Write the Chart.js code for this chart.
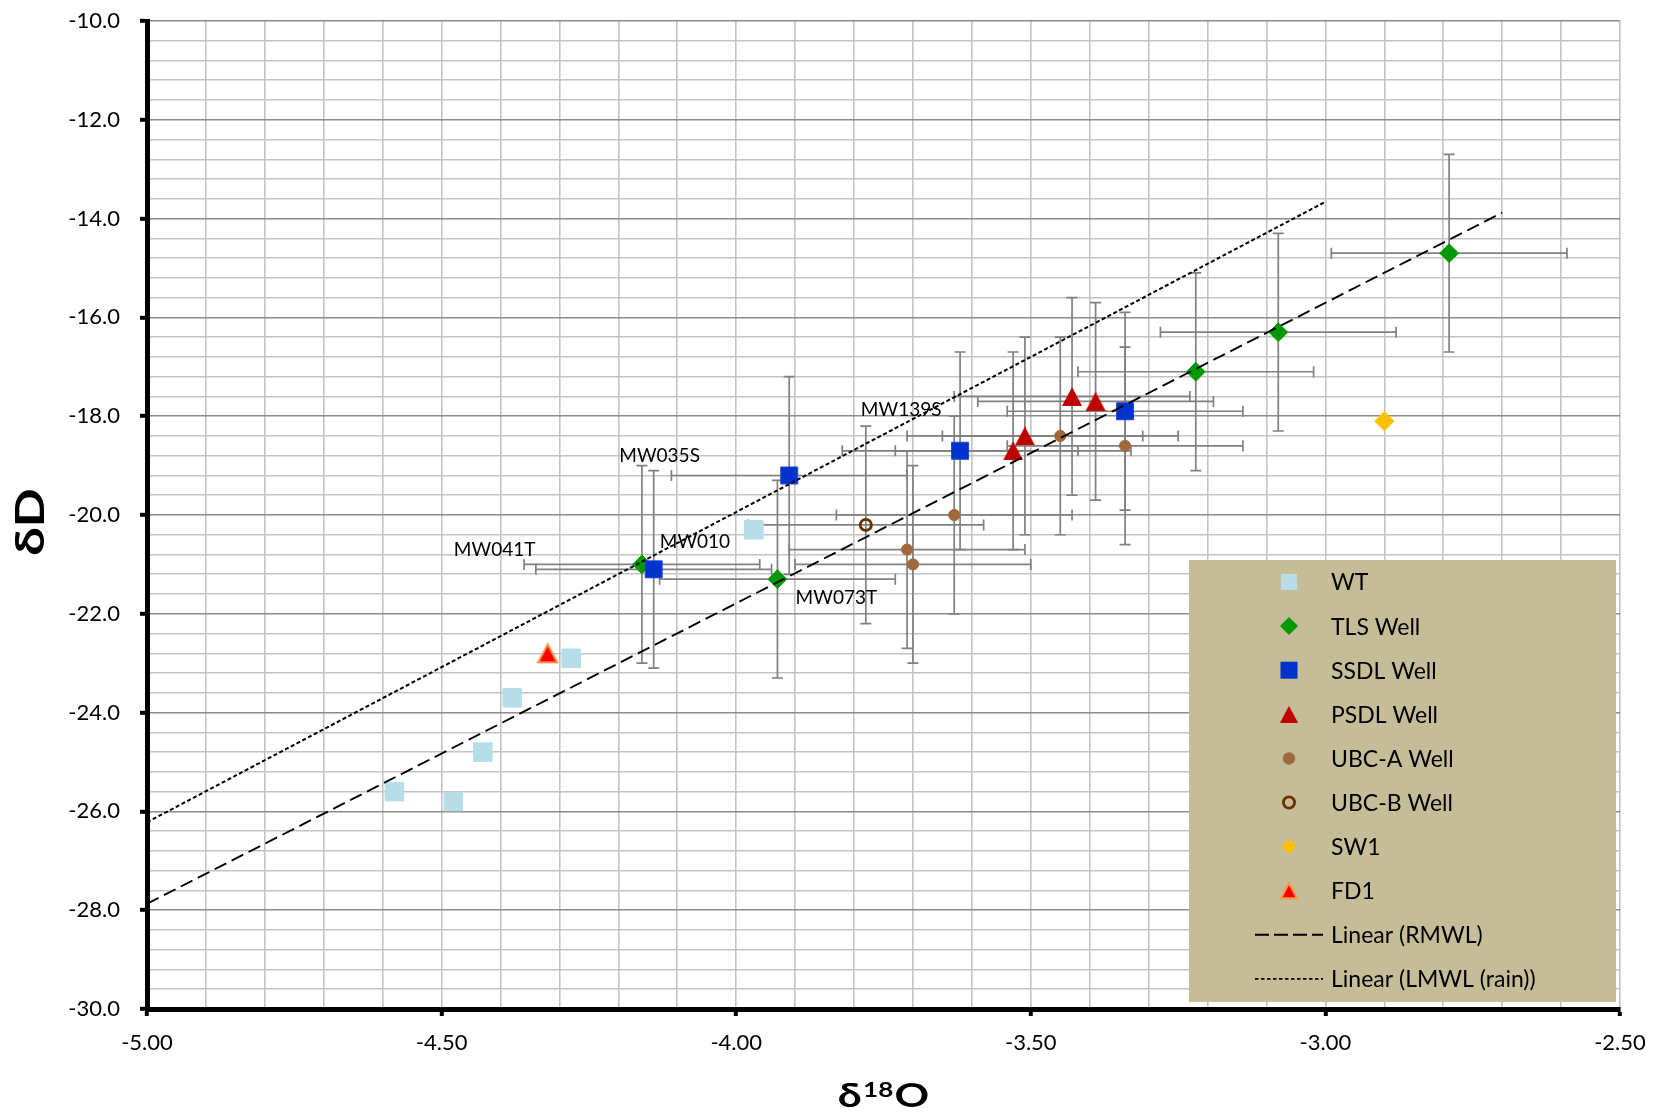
<!DOCTYPE html>
<html>
<head>
<meta charset="utf-8">
<title>Isotope Plot</title>
<script src="https://cdn.jsdelivr.net/npm/chart.js"></script>
<style>
    body {
        margin: 0;
        background: #fff;
    }
    #wrap {
        width: 1668px;
        height: 1120px;
    }
</style>
</head>
<body>
<div id="wrap"><canvas id="isoChart" width="1668" height="1120"></canvas></div>

<script>
// d18O / dD values for each sample group
var wtX   = [-4.58, -4.48, -4.43, -4.38, -4.28, -3.97];
var wtY   = [-25.6, -25.8, -24.8, -23.7, -22.9, -20.3];
var tlsX  = [-4.16, -3.93, -3.22, -3.08, -2.79];
var tlsY  = [-21.0, -21.3, -17.1, -16.3, -14.7];
var ssdlX = [-4.14, -3.91, -3.62, -3.34];
var ssdlY = [-21.1, -19.2, -18.7, -17.9];
var psdlX = [-3.53, -3.51, -3.43, -3.39];
var psdlY = [-18.7, -18.4, -17.6, -17.7];
var ubcaX = [-3.71, -3.70, -3.63, -3.45, -3.34];
var ubcaY = [-20.7, -21.0, -20.0, -18.4, -18.6];
var ubcbX = [-3.78];
var ubcbY = [-20.2];
var sw1X  = [-2.90];
var sw1Y  = [-18.1];
var fd1X  = [-4.32];
var fd1Y  = [-22.8];

// trend line end points
var rmwlX = [-5.00, -2.70];
var rmwlY = [-27.87, -13.88];
var lmwlX = [-5.00, -3.00];
var lmwlY = [-26.22, -13.66];

// analytical uncertainty (+/-)
var errO = 0.2;
var errD = 2.0;

// well id labels, placed in data units
var labelText = ['MW041T', 'MW035S', 'MW010', 'MW073T', 'MW139S'];
var labelX    = [-4.41, -4.13, -4.07, -3.83, -3.72];
var labelY    = [-20.70, -18.80, -20.55, -21.67, -17.87];

// labelled ticks
var xMajor = [-5.0, -4.5, -4.0, -3.5, -3.0, -2.5];
var yMajor = [-10, -12, -14, -16, -18, -20, -22, -24, -26, -28, -30];

function pts(xs, ys) {
    return xs.map(function (x, i) { return { x: x, y: ys[i] }; });
}
function isMajor(list, v) {
    return list.some(function (m) { return Math.abs(m - v) < 1e-6; });
}

// triangle marker centred on its bounding box
function triangleMark(w, h, fill, stroke, lw) {
    var pad = Math.ceil(lw || 0);
    var c = document.createElement('canvas');
    c.width = Math.round(w + 2 * pad);
    c.height = Math.round(h + 2 * pad);
    var g = c.getContext('2d');
    g.beginPath();
    g.moveTo(c.width / 2, pad);
    g.lineTo(c.width - pad, c.height - pad);
    g.lineTo(pad, c.height - pad);
    g.closePath();
    g.fillStyle = fill;
    g.fill();
    if (lw) {
        g.lineWidth = lw;
        g.strokeStyle = stroke;
        g.stroke();
    }
    return c;
}

var psdlMark = triangleMark(20, 19, '#c00000');
var fd1Mark = triangleMark(19, 18, '#ff0000', '#f79646', 2);
var psdlKey = triangleMark(18, 17, '#c00000');
var fd1Key = triangleMark(16, 15, '#ff0000', '#f79646', 2);

Chart.defaults.font.family = 'Lato, "Liberation Sans", sans-serif';
Chart.defaults.color = '#000';

var datasets = [
    { label: 'Linear (RMWL)', data: pts(rmwlX, rmwlY), showLine: true, borderColor: '#000', borderWidth: 1.9,
      borderDash: [13, 6], pointRadius: 0, order: 0 },
    { label: 'Linear (LMWL (rain))', data: pts(lmwlX, lmwlY), showLine: true, borderColor: '#000', borderWidth: 2,
      borderDash: [4, 2.5], pointRadius: 0, order: 0 },
    { label: 'WT', data: pts(wtX, wtY), pointStyle: 'rect', pointRadius: 13.1,
      backgroundColor: '#b7dde8', borderColor: '#b7dde8', borderWidth: 1, order: 9 },
    { label: 'TLS Well', data: pts(tlsX, tlsY), pointStyle: 'rectRot', pointRadius: 9.4, errorBars: true,
      backgroundColor: '#009900', borderColor: '#009900', borderWidth: 1, order: 8 },
    { label: 'SSDL Well', data: pts(ssdlX, ssdlY), pointStyle: 'rect', pointRadius: 12, errorBars: true,
      backgroundColor: '#0033cc', borderColor: '#1a47d6', borderWidth: 1, order: 7 },
    { label: 'PSDL Well', data: pts(psdlX, psdlY), pointStyle: psdlMark, pointRadius: 10, errorBars: true,
      backgroundColor: '#c00000', order: 6 },
    { label: 'UBC-A Well', data: pts(ubcaX, ubcaY), pointStyle: 'circle', pointRadius: 5.6, errorBars: true,
      backgroundColor: '#a0693c', borderColor: '#a0693c', borderWidth: 1, order: 5 },
    { label: 'UBC-B Well', data: pts(ubcbX, ubcbY), pointStyle: 'circle', pointRadius: 5.6, errorBars: true,
      backgroundColor: 'rgba(0,0,0,0)', borderColor: '#663300', borderWidth: 2.8, order: 4 },
    { label: 'SW1', data: pts(sw1X, sw1Y), pointStyle: 'rectRot', pointRadius: 9.6,
      backgroundColor: '#ffc000', borderColor: '#ffc000', borderWidth: 1, order: 3 },
    { label: 'FD1', data: pts(fd1X, fd1Y), pointStyle: fd1Mark, pointRadius: 11,
      backgroundColor: '#ff0000', order: 2 }
];

// legend rows, in display order
var legendRows = [
    { text: 'WT', kind: 'rect', size: 16, fill: '#b7dde8' },
    { text: 'TLS Well', kind: 'diamond', size: 18, fill: '#009900' },
    { text: 'SSDL Well', kind: 'rect', size: 17, fill: '#0033cc' },
    { text: 'PSDL Well', kind: 'image', img: psdlKey },
    { text: 'UBC-A Well', kind: 'circle', size: 12.5, fill: '#a0693c' },
    { text: 'UBC-B Well', kind: 'ring', size: 14, stroke: '#663300' },
    { text: 'SW1', kind: 'diamond', size: 15, fill: '#ffc000' },
    { text: 'FD1', kind: 'image', img: fd1Key },
    { text: 'Linear (RMWL)', kind: 'line', dash: [14, 5], width: 1.9 },
    { text: 'Linear (LMWL (rain))', kind: 'line', dash: [3.5, 2.5], width: 1.8 }
];

function drawKey(ctx, row, x, y) {
    ctx.save();
    var h = (row.size || 0) / 2;
    ctx.fillStyle = row.fill || '#000';
    if (row.kind === 'rect') {
        ctx.fillRect(x - h, y - h, 2 * h, 2 * h);
    } else if (row.kind === 'diamond') {
        ctx.beginPath();
        ctx.moveTo(x, y - h);
        ctx.lineTo(x + h, y);
        ctx.lineTo(x, y + h);
        ctx.lineTo(x - h, y);
        ctx.closePath();
        ctx.fill();
    } else if (row.kind === 'circle') {
        ctx.beginPath();
        ctx.arc(x, y, h, 0, Math.PI * 2);
        ctx.fill();
    } else if (row.kind === 'ring') {
        ctx.beginPath();
        ctx.arc(x, y, h - 1.4, 0, Math.PI * 2);
        ctx.lineWidth = 2.8;
        ctx.strokeStyle = row.stroke;
        ctx.stroke();
    } else if (row.kind === 'image') {
        ctx.drawImage(row.img, x - row.img.width / 2, y - row.img.height / 2);
    } else if (row.kind === 'line') {
        ctx.beginPath();
        ctx.setLineDash(row.dash);
        ctx.lineWidth = row.width;
        ctx.strokeStyle = '#000';
        ctx.moveTo(x - 34, y);
        ctx.lineTo(x + 34, y);
        ctx.stroke();
    }
    ctx.restore();
}

var isoDecor = {
    id: 'isoDecor',
    beforeDatasetsDraw: function (chart) {
        var ctx = chart.ctx, xs = chart.scales.x, ys = chart.scales.y;
        var cap = 5.5;
        ctx.save();
        ctx.strokeStyle = '#808080';
        ctx.lineWidth = 1.7;
        chart.data.datasets.forEach(function (ds) {
            if (!ds.errorBars) return;
            ds.data.forEach(function (p) {
                var px = xs.getPixelForValue(p.x), py = ys.getPixelForValue(p.y);
                var x0 = xs.getPixelForValue(p.x - errO), x1 = xs.getPixelForValue(p.x + errO);
                var y0 = ys.getPixelForValue(p.y + errD), y1 = ys.getPixelForValue(p.y - errD);
                ctx.beginPath();
                ctx.moveTo(x0, py); ctx.lineTo(x1, py);
                ctx.moveTo(x0, py - cap); ctx.lineTo(x0, py + cap);
                ctx.moveTo(x1, py - cap); ctx.lineTo(x1, py + cap);
                ctx.moveTo(px, y0); ctx.lineTo(px, y1);
                ctx.moveTo(px - cap, y0); ctx.lineTo(px + cap, y0);
                ctx.moveTo(px - cap, y1); ctx.lineTo(px + cap, y1);
                ctx.stroke();
            });
        });
        ctx.restore();
    },
    afterDatasetsDraw: function (chart) {
        var ctx = chart.ctx, xs = chart.scales.x, ys = chart.scales.y;
        ctx.save();
        ctx.font = '19px Lato, "Liberation Sans", sans-serif';
        ctx.fillStyle = '#000';
        ctx.textAlign = 'center';
        ctx.textBaseline = 'middle';
        labelText.forEach(function (t, i) {
            ctx.fillText(t, xs.getPixelForValue(labelX[i]), ys.getPixelForValue(labelY[i]));
        });
        ctx.restore();
    },
    afterDraw: function (chart) {
        var ctx = chart.ctx, area = chart.chartArea;
        ctx.save();

        // legend panel
        ctx.fillStyle = '#c4bd97';
        ctx.fillRect(1189, 560, 427, 442);
        ctx.font = '23px Lato, "Liberation Sans", sans-serif';
        ctx.textAlign = 'left';
        ctx.textBaseline = 'middle';
        legendRows.forEach(function (row, i) {
            var y = 582 + i * 44.1;
            drawKey(ctx, row, 1289, y);
            ctx.fillStyle = '#000';
            ctx.fillText(row.text, 1331, y + 1);
        });

        // y axis title
        ctx.save();
        ctx.translate(44, 522);
        ctx.rotate(-Math.PI / 2);
        ctx.scale(1.25, 1);
        ctx.font = 'bold 41px Lato, "Liberation Sans", sans-serif';
        ctx.textAlign = 'center';
        ctx.textBaseline = 'alphabetic';
        ctx.fillStyle = '#000';
        ctx.fillText('\u03b4D', 0, 0);
        ctx.restore();

        // x axis title with superscript mass number
        ctx.save();
        var cx = (area.left + area.right) / 2;
        ctx.translate(cx, 1107);
        ctx.scale(1.3, 1);
        ctx.fillStyle = '#000';
        ctx.textBaseline = 'alphabetic';
        ctx.textAlign = 'left';
        var big = 'bold 33px Lato, "Liberation Sans", sans-serif';
        var small = 'bold 20px Lato, "Liberation Sans", sans-serif';
        ctx.font = big;
        var wd = ctx.measureText('\u03b4').width;
        var wo = ctx.measureText('O').width;
        ctx.font = small;
        var ws = ctx.measureText('18').width;
        var x = -(wd + ws + wo + 2) / 2;
        ctx.font = big;
        ctx.fillText('\u03b4', x, 0);
        ctx.font = small;
        ctx.fillText('18', x + wd + 1, -10);
        ctx.font = big;
        ctx.fillText('O', x + wd + ws + 2, 0);
        ctx.restore();

        ctx.restore();
    }
};

var ctx = document.getElementById('isoChart').getContext('2d');
var isoChart = new Chart(ctx, {
    type: 'scatter',
    data: { datasets: datasets },
    options: {
        responsive: false,
        animation: false,
        events: [],
        layout: { padding: { top: 21, right: 48, left: 0, bottom: 0 } },
        plugins: {
            legend: { display: false },
            tooltip: { enabled: false }
        },
        scales: {
            x: {
                type: 'linear',
                min: -5,
                max: -2.5,
                afterFit: function (scale) { scale.height = 111; },
                ticks: {
                    stepSize: 0.1,
                    autoSkip: false,
                    maxRotation: 0,
                    minRotation: 0,
                    padding: 14,
                    color: '#000',
                    font: { size: 22 },
                    callback: function (v) { return isMajor(xMajor, v) ? v.toFixed(2) : ''; }
                },
                grid: {
                    color: '#c3c3c3',
                    lineWidth: 1.6,
                    tickLength: 7,
                    tickWidth: 4,
                    tickColor: function (c) {
                        return c.tick && isMajor(xMajor, c.tick.value) ? '#000' : 'rgba(0,0,0,0)';
                    }
                },
                border: { color: '#000', width: 5 }
            },
            y: {
                type: 'linear',
                min: -30,
                max: -10,
                afterFit: function (scale) {
                    scale.width = 147;
                    // keep the label padding from pushing the plot down
                    scale.paddingTop = 12;
                    scale.paddingBottom = 12;
                },
                ticks: {
                    stepSize: 0.4,
                    autoSkip: false,
                    padding: 20,
                    color: '#000',
                    font: { size: 22 },
                    callback: function (v) { return isMajor(yMajor, v) ? v.toFixed(1) : ''; }
                },
                grid: {
                    color: function (c) {
                        return c.tick && isMajor(yMajor, c.tick.value) ? '#8c8c8c' : '#c3c3c3';
                    },
                    lineWidth: 1.6,
                    tickLength: 7,
                    tickWidth: 4,
                    tickColor: function (c) {
                        return c.tick && isMajor(yMajor, c.tick.value) ? '#000' : 'rgba(0,0,0,0)';
                    }
                },
                border: { color: '#000', width: 5 }
            }
        }
    },
    plugins: [isoDecor]
});
</script>
</body>
</html>
